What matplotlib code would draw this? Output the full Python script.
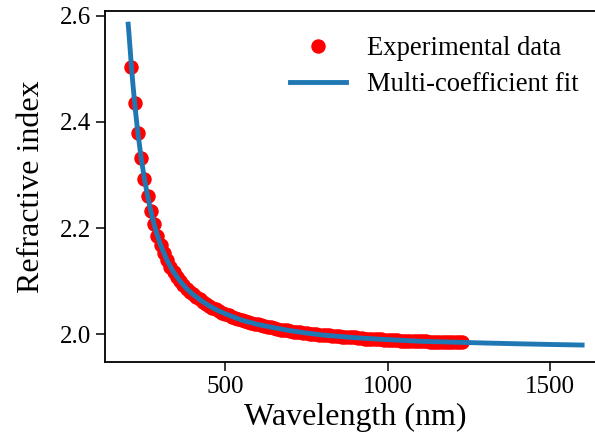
import matplotlib
matplotlib.use("Agg")
import matplotlib.pyplot as plt

# experimental points (nm, refractive index)
wl_data = [210, 220, 230, 240, 250, 260, 270, 280, 290, 300,
           310, 320, 330, 340, 350, 360, 370, 380, 390, 400,
           410, 420, 430, 440, 450, 460, 470, 480, 490, 500,
           510, 520, 530, 540, 550, 560, 570, 580, 590, 600,
           610, 620, 630, 640, 650, 660, 670, 680, 690, 700,
           710, 720, 730, 740, 750, 760, 770, 780, 790, 800,
           810, 820, 830, 840, 850, 860, 870, 880, 890, 900,
           910, 920, 930, 940, 950, 960, 970, 980, 990, 1000,
           1010, 1020, 1030, 1040, 1050, 1060, 1070, 1080, 1090, 1100,
           1110, 1120, 1130, 1140, 1150, 1160, 1170, 1180, 1190, 1200,
           1210, 1220, 1230]
n_data = [2.504, 2.436, 2.379, 2.332, 2.293, 2.260, 2.232, 2.207, 2.186, 2.168,
          2.153, 2.139, 2.127, 2.117, 2.108, 2.100, 2.093, 2.086, 2.080, 2.075,
          2.070, 2.066, 2.061, 2.057, 2.054, 2.050, 2.047, 2.044, 2.041, 2.039,
          2.036, 2.033, 2.030, 2.028, 2.027, 2.025, 2.023, 2.021, 2.020, 2.019,
          2.017, 2.016, 2.014, 2.013, 2.012, 2.010, 2.009, 2.008, 2.008, 2.007,
          2.005, 2.004, 2.004, 2.003, 2.002, 2.001, 2.000, 2.000, 1.999, 1.999,
          1.998, 1.998, 1.997, 1.996, 1.996, 1.995, 1.995, 1.995, 1.994, 1.994,
          1.993, 1.993, 1.992, 1.992, 1.992, 1.992, 1.991, 1.991, 1.990, 1.990,
          1.990, 1.990, 1.989, 1.988, 1.988, 1.988, 1.988, 1.987, 1.987, 1.987,
          1.987, 1.987, 1.986, 1.986, 1.986, 1.986, 1.986, 1.986, 1.986, 1.985,
          1.985, 1.985, 1.985]

# fitted curve
wl_fit = [200, 205, 210, 215, 220, 225, 230, 240, 250, 260, 270, 280, 290, 300,
          320, 340, 360, 380, 400, 425, 450, 475, 500, 550, 600, 650, 700, 750,
          800, 900, 1000, 1100, 1200, 1300, 1400, 1500, 1600]
n_fit = [2.584, 2.545, 2.504, 2.468, 2.436, 2.406, 2.379, 2.332, 2.293, 2.260,
         2.232, 2.207, 2.186, 2.168, 2.139, 2.117, 2.100, 2.086, 2.075, 2.0635,
         2.0535, 2.0453, 2.0385, 2.0266, 2.0185, 2.0123, 2.0068, 2.0024, 1.9986,
         1.9936, 1.9900, 1.9869, 1.9853, 1.9836, 1.9822, 1.9809, 1.9798]

plt.rcParams['font.family'] = ['Liberation Serif', 'DejaVu Serif']

fig = plt.figure(figsize=(5.95, 4.47), dpi=100)
ax = fig.add_axes([0.1773, 0.1908, 0.8392, 0.7846])

ax.plot(wl_data, n_data, 'o', color='#ff0000', markersize=9.4, label='Experimental data')
ax.plot(wl_fit, n_fit, '-', color='#1f77b4', linewidth=3.5, label='Multi-coefficient fit')

ax.set_xlim(130, 1670)
ax.set_ylim(1.9484, 2.6088)
ax.set_xticks([500, 1000, 1500])
ax.set_yticks([2.0, 2.2, 2.4, 2.6])
ax.set_yticklabels(['2.0', '2.2', '2.4', '2.6'])

ax.tick_params(labelsize=18, length=6.5, width=1.1)
for s in ax.spines.values():
    s.set_linewidth(1.3)

ax.set_xlabel('Wavelength (nm)', fontsize=23)
ax.set_ylabel('Refractive index', fontsize=23, labelpad=10)

ax.legend(loc='upper right', bbox_to_anchor=(0.996, 0.997), frameon=False,
          fontsize=19.2, handlelength=2.1, labelspacing=0.42)

fig.savefig('out.png', dpi=100)
